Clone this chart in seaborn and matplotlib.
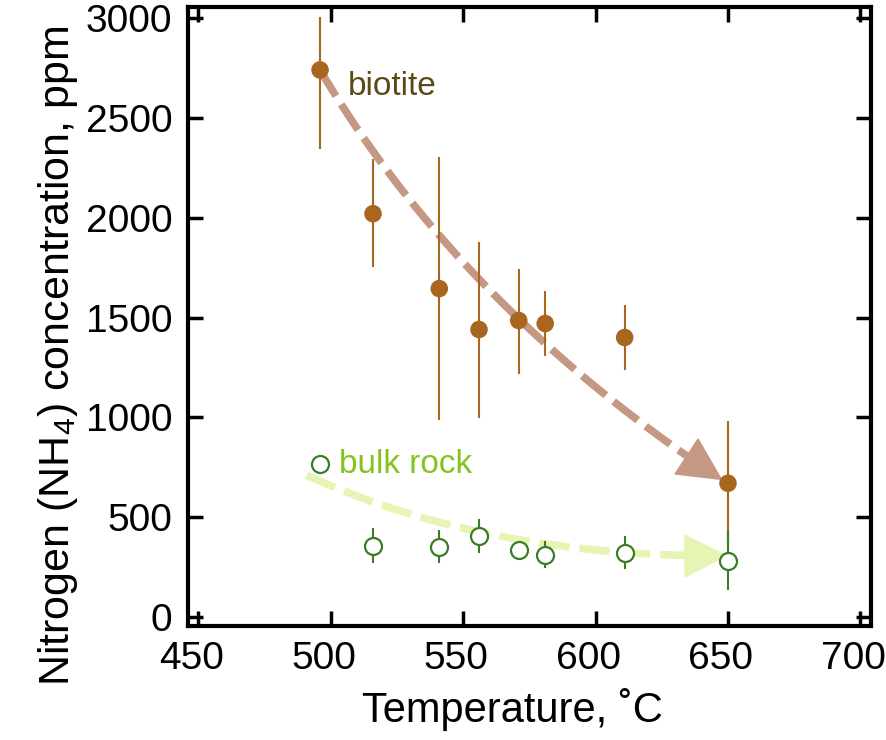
import numpy as np
import pandas as pd
import matplotlib
matplotlib.use('Agg')
import matplotlib.pyplot as plt
import matplotlib.transforms as mtransforms
import seaborn as sns
from matplotlib.patches import FancyArrowPatch

# 数据
temp_biotite = [496, 516, 541, 556, 571, 581, 611, 650]
nh4_biotite = [2740, 2020, 1645, 1440, 1485, 1470, 1400, 670]
biotite_err_low = [395, 265, 660, 445, 270, 165, 165, 320]
biotite_err_high = [265, 275, 660, 440, 260, 165, 165, 310]

temp_bulk = [496, 516, 541, 556, 571, 581, 611, 650]
nh4_bulk = [767, 355, 352, 405, 335, 310, 320, 282]
bulk_err_low = [0, 85, 82, 85, 0, 65, 80, 147]
bulk_err_high = [0, 90, 83, 85, 0, 70, 85, 153]

x_ticks = [450, 500, 550, 600, 650, 700]
y_ticks = [0, 500, 1000, 1500, 2000, 2500, 3000]

# 趋势箭头 (二次贝塞尔曲线: 起点, 控制点, 终点)
trend_biotite = [(496, 2740), (549, 1550), (648, 685)]
trend_bulk = [(491, 710), (560, 295), (650, 308)]

df_biotite = pd.DataFrame({'Temperature': temp_biotite, 'NH4': nh4_biotite})
df_bulk = pd.DataFrame({'Temperature': temp_bulk, 'NH4': nh4_bulk})

sns.set_style('ticks')
plt.rcParams['font.family'] = ['Liberation Sans', 'DejaVu Sans']
plt.rcParams['mathtext.fontset'] = 'custom'
plt.rcParams['mathtext.rm'] = 'Liberation Sans'
plt.rcParams['mathtext.it'] = 'Liberation Sans:italic'
for k in ['text.color', 'axes.labelcolor', 'xtick.color', 'ytick.color']:
    plt.rcParams[k] = 'black'

brown = '#a8661f'
green = '#3b7d26'

fig = plt.figure(figsize=(8.87, 7.4), dpi=100)
ax = fig.add_axes([0.2115, 0.154, 0.7705, 0.8365])


def draw_trend(ctrl, color, stop=0.93):
    p0, p1, p2 = [np.array(p, dtype=float) for p in ctrl]
    t = np.linspace(0, stop, 100)[:, None]
    curve = (1 - t) ** 2 * p0 + 2 * (1 - t) * t * p1 + t ** 2 * p2
    ax.plot(curve[:, 0], curve[:, 1], color=color, lw=5.5,
            dashes=(4, 1.3), solid_capstyle='butt', zorder=1)
    # 箭头头部
    start = p2 - 0.12 * (p2 - p1)
    head = FancyArrowPatch(tuple(start), tuple(p2), shrinkA=0, shrinkB=0,
                           arrowstyle='-|>,head_length=1.5,head_width=0.75',
                           mutation_scale=20, color=color, lw=1, zorder=1)
    ax.add_patch(head)


draw_trend(trend_biotite, '#c49882')
draw_trend(trend_bulk, '#e6f5b4')

# 误差棒
ax.errorbar(temp_biotite, nh4_biotite, yerr=[biotite_err_low, biotite_err_high],
            fmt='none', ecolor=brown, elinewidth=1.5, capsize=0, zorder=2)
ax.errorbar(temp_bulk, nh4_bulk, yerr=[bulk_err_low, bulk_err_high],
            fmt='none', ecolor=green, elinewidth=1.5, capsize=0, zorder=3)

sns.scatterplot(x='Temperature', y='NH4', data=df_biotite, ax=ax, color=brown,
                s=160, edgecolor='none', zorder=4)
sns.scatterplot(x='Temperature', y='NH4', data=df_bulk, ax=ax, facecolor='white',
                edgecolor=green, linewidth=1.6, s=150, zorder=5)

ax.text(506.5, 2655, 'biotite', fontsize=24, color='#5a4a16', va='center')
ax.text(503, 765, 'bulk rock', fontsize=24, color='#84c41a', va='center')

ax.set_xlim(446, 704)
ax.set_ylim(-45, 3055)
ax.set_xticks(x_ticks)
ax.set_yticks(y_ticks)
ax.tick_params(direction='in', length=11, width=2.5, labelsize=28,
               top=True, right=True, pad=11)
offset = mtransforms.ScaledTranslation(-7 / 100, 0, fig.dpi_scale_trans)
for lab in ax.get_xticklabels():
    lab.set_transform(lab.get_transform() + offset)
for s in ax.spines.values():
    s.set_linewidth(3)
    s.set_color('black')
ax.set_xlabel('Temperature, ˚C', fontsize=30, labelpad=8)
ax.set_ylabel('Nitrogen (NH$_4$) concentration, ppm', fontsize=31, labelpad=4)
ax.xaxis.label.set_x(0.476)
ax.yaxis.label.set_y(0.436)

fig.savefig('out.png', dpi=100)
